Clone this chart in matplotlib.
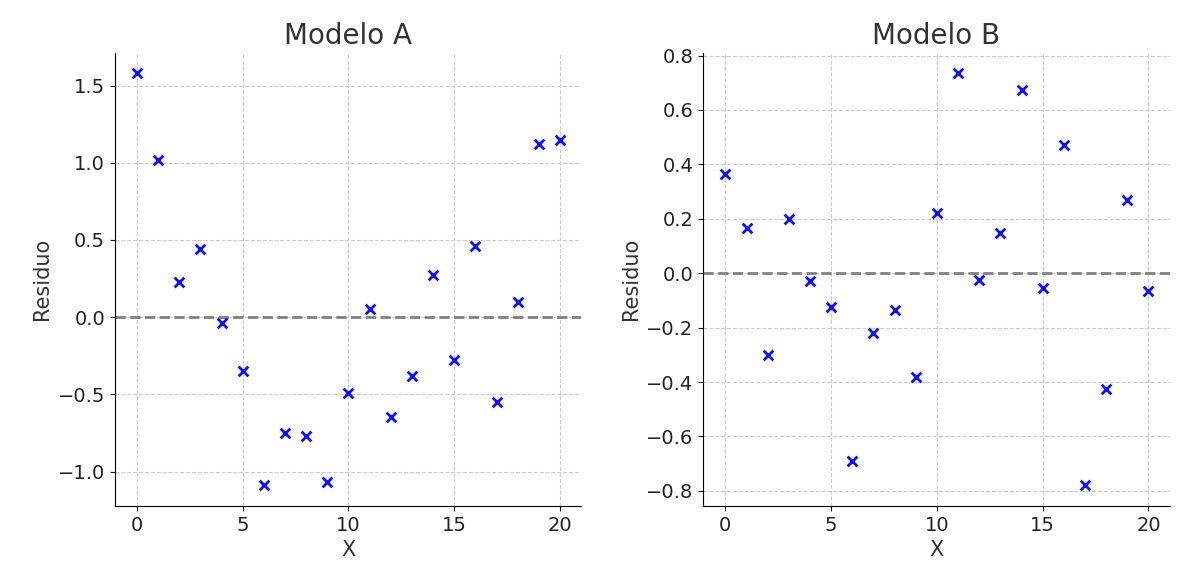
import matplotlib
matplotlib.use("Agg")
import matplotlib.pyplot as plt

x = list(range(21))
res_a = [1.58, 1.02, 0.23, 0.44, -0.04, -0.35, -1.09, -0.75, -0.77, -1.07, -0.49,
         0.05, -0.65, -0.38, 0.27, -0.28, 0.46, -0.55, 0.10, 1.12, 1.15]
res_b = [0.365, 0.166, -0.30, 0.20, -0.03, -0.125, -0.69, -0.22, -0.137, -0.38, 0.22,
         0.735, -0.026, 0.147, 0.675, -0.055, 0.47, -0.78, -0.425, 0.27, -0.067]
titles = ["Modelo A", "Modelo B"]

plt.rcParams['font.family'] = ['DejaVu Sans']
fig, axes = plt.subplots(1, 2, figsize=(11.85, 5.85), dpi=100)
for ax, y, t in zip(axes, [res_a, res_b], titles):
    ax.scatter(x, y, marker='x', color='#1010e0', s=50, linewidths=2, zorder=3)
    ax.axhline(0, color='gray', linestyle='--', linewidth=2, zorder=2)
    ax.set_title(t, fontsize=20, color='#333333')
    ax.set_xlabel("X", fontsize=15, color='#333333')
    ax.set_ylabel("Residuo", fontsize=15, color='#333333')
    ax.grid(True, linestyle='--', color='#cccccc', linewidth=0.8)
    ax.tick_params(labelsize=14, colors='#222222')
    ax.spines['top'].set_visible(False)
    ax.spines['right'].set_visible(False)
    ax.set_xticks([0, 5, 10, 15, 20])
    ax.set_xlim(-1.04, 21)
axes[0].set_yticks([-1.0, -0.5, 0.0, 0.5, 1.0, 1.5])
axes[1].set_yticks([-0.8, -0.6, -0.4, -0.2, 0.0, 0.2, 0.4, 0.6, 0.8])
fig.subplots_adjust(left=0.097, right=0.987, bottom=0.135, top=0.91, wspace=0.262)
fig.savefig("out.png")
